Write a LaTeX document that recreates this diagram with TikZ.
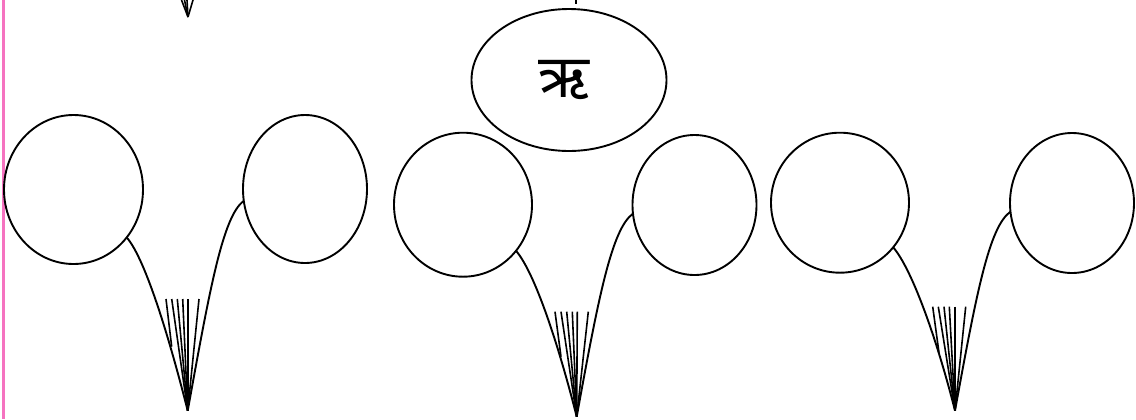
\documentclass[tikz,border=0pt]{standalone}
\usepackage{fontspec}
\newfontfamily\devfont[Script=Devanagari]{Noto Sans}
\usetikzlibrary{shapes.geometric}
\tikzset{
  bub/.style={draw, ellipse, inner sep=0pt, outer sep=0pt, line width=1.9bp},
  wire/.style={draw, line width=1.9bp},
  fanline/.style={draw, line width=1.6bp},
  edge/.style={draw=magenta!55, line width=2.2bp},
}
\begin{document}
\begin{tikzpicture}[x=1bp, y=-1bp]
\useasboundingbox (0,0) rectangle (1136,419);
% left edge line
\coordinate (e1) at (3.5,0);
\coordinate (e2) at (3.5,419);
\draw[edge] (e1) -- (e2);

% bubbles
\node[bub, minimum width=139bp, minimum height=149bp] (c1) at (73.5,189.5) {};
\node[bub, minimum width=124bp, minimum height=148bp] (c2) at (305,189) {};
\node[bub, minimum width=138bp, minimum height=144bp] (c3) at (463,204.7) {};
\node[bub, minimum width=124bp, minimum height=140bp] (c4) at (694.5,205) {};
\node[bub, minimum width=138bp, minimum height=140bp] (c5) at (840,202.7) {};
\node[bub, minimum width=124bp, minimum height=140bp] (c6) at (1072,203) {};
\node[bub, minimum width=195bp, minimum height=142bp] (top) at (569,80) {};
\node[font=\devfont\fontsize{60}{68}\selectfont, inner sep=0pt] (lbl) at (564,80) {ऋ};

% tips
\coordinate (t1) at (187.7,410.7);
\coordinate (t2) at (576.7,416.7);
\coordinate (t3) at (955,410.7);

% curves
\draw[wire] (c1.-42.7) .. controls +(19,22) and +(-18,-71) .. (t1);
\draw[wire] (c2.191) .. controls +(-21,15) and +(22,-121) .. (t1);
\draw[wire] (c3.-41.1) .. controls +(19,22) and +(-18,-71) .. (t2);
\draw[wire] (c4.188.3) .. controls +(-21,15) and +(22,-121) .. (t2);
\draw[wire] (c5.-40.9) .. controls +(19,22) and +(-18,-71) .. (t3);
\draw[wire] (c6.188.8) .. controls +(-21,15) and +(22,-121) .. (t3);

% fans
\draw[fanline] (166,299) -- (171.7,346.7);
\foreach \x in {171.7,177.3,182.7,187.7,199} \draw[fanline] (\x,299) -- (t1);
\draw[fanline] (555,311.7) -- (561,356.7);
\foreach \x in {561,566.7,572.3,577.3,588.3} \draw[fanline] (\x,311.7) -- (t2);
\draw[fanline] (932.7,306.7) -- (939,352.7);
\foreach \x in {938.3,944,949.3,955,965.7} \draw[fanline] (\x,306.7) -- (t3);

% clipped pieces at the top
\coordinate (t0) at (188,17);
\foreach \x in {181.5,184.5,187,193} \draw[fanline] (\x,0) -- (t0);
\coordinate (m1) at (576,0);
\coordinate (m2) at (576,4);
\draw[wire] (m1) -- (m2);
\end{tikzpicture}
\end{document}
